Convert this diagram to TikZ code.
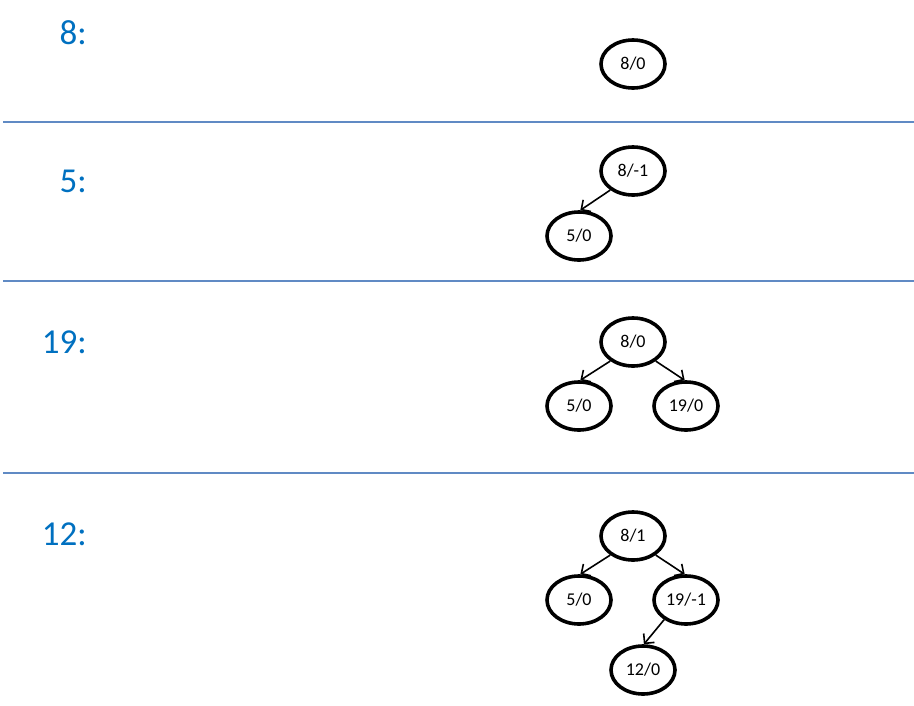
\documentclass[tikz,border=0pt]{standalone}
\usepackage{fontspec}
\setmainfont{Carlito}
\usetikzlibrary{shapes.geometric,arrows.meta}
\definecolor{lblblue}{RGB}{0,112,192}
\definecolor{sepblue}{RGB}{96,138,196}
\tikzset{
  avl/.style={ellipse,draw=black,line width=3.6pt,minimum width=64pt,minimum height=48pt,inner sep=0pt,font=\fontsize{18}{18}\selectfont},
  lbl/.style={anchor=base east,text=lblblue,font=\fontsize{35}{35}\selectfont,inner sep=0pt},
  sep/.style={draw=sepblue,line width=1.6pt},
  edge/.style={line width=1.6pt,-{Straight Barb[length=7pt,width=14pt,line width=1.6pt]}}
}
\begin{document}
\begin{tikzpicture}[x=1pt,y=-1pt]
\useasboundingbox (0,0) rectangle (914,705);
% separators
\coordinate (s1a) at (3,122); \coordinate (s1b) at (914,122);
\coordinate (s2a) at (3,281); \coordinate (s2b) at (914,281);
\coordinate (s3a) at (3,473); \coordinate (s3b) at (914,473);
\draw[sep] (s1a) -- (s1b);
\draw[sep] (s2a) -- (s2b);
\draw[sep] (s3a) -- (s3b);
% labels
\node[lbl] (l1) at (87,44) {8:};
\node[lbl] (l2) at (87,192) {5:};
\node[lbl] (l3) at (87,353) {19:};
\node[lbl] (l4) at (87,545) {12:};
% row 1
\node[avl] (a1) at (633,64) {8/0};
% row 2
\node[avl] (b1) at (633,171) {8/-1};
\node[avl] (b2) at (579,236) {5/0};
\draw[edge] (b1.220) -- (b2.87);
% row 3
\node[avl] (c1) at (633,342) {8/0};
\node[avl] (c2) at (579,406) {5/0};
\node[avl] (c3) at (686,406) {19/0};
\draw[edge] (c1.220) -- (c2.87);
\draw[edge] (c1.-40) -- (c3.93);
% row 4
\node[avl] (d1) at (633,536) {8/1};
\node[avl] (d2) at (579,600) {5/0};
\node[avl] (d3) at (686,600) {19/-1};
\node[avl] (d4) at (643,670) {12/0};
\draw[edge] (d1.220) -- (d2.87);
\draw[edge] (d1.-40) -- (d3.93);
\draw[edge] (d3.222) -- (d4.88);
\end{tikzpicture}
\end{document}
